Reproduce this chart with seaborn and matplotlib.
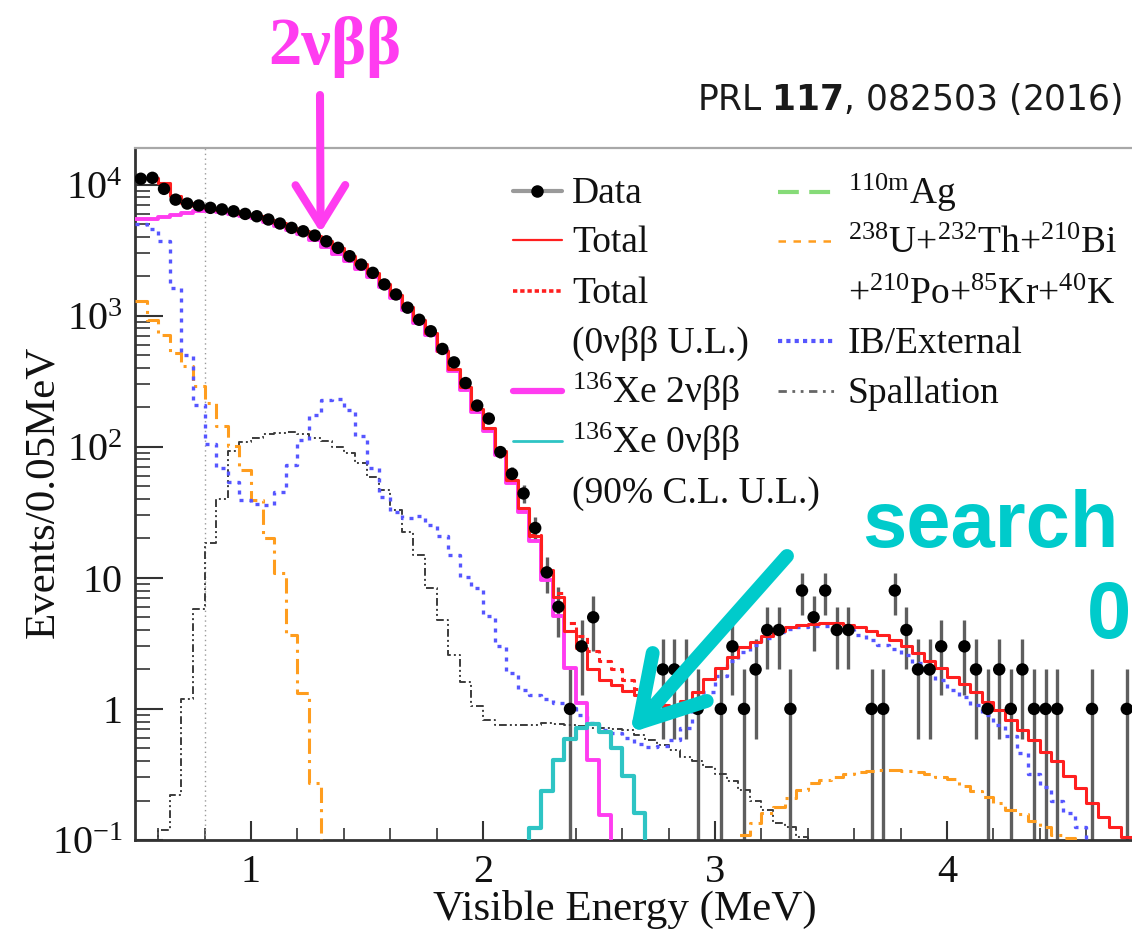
import numpy as np
import pandas as pd
import matplotlib
matplotlib.use("Agg")
import matplotlib.pyplot as plt
from matplotlib.lines import Line2D
from matplotlib.ticker import MultipleLocator, NullFormatter
import seaborn as sns

# ------------------------------------------------------------------ data
BIN_WIDTH = 0.05            # MeV per bin
E_LOW, E_HIGH = 0.5, 5.0    # visible-energy window (MeV)

# observed events per bin, bins start at 0.5 MeV
data_counts = [
    11070, 11250, 9270, 7670, 7160, 6920, 6640, 6460, 6250, 5970,
    5730, 5410, 5040, 4670, 4400, 4080, 3690, 3290, 2840, 2450,
    2120, 1730, 1450, 1150, 930, 760, 557, 440, 306, 206,
    164, 91, 62, 44, 24, 11, 6, 1, 3, 5,
    0, 0, 0, 0, 0, 2, 2, 2, 1, 0,
    1, 3, 1, 2, 4, 4, 1, 8, 5, 8,
    4, 4, 0, 1, 1, 8, 4, 2, 2, 3,
    0, 3, 2, 1, 2, 1, 2, 1, 1, 1,
    0, 0, 1, 0, 0, 1,
]

# best-fit total spectrum, same binning
total_fit = [
    11200, 11200, 10300, 8150, 7250, 6900, 6650, 6450, 6250, 5980,
    5730, 5400, 5050, 4700, 4400, 4080, 3700, 3300, 2870, 2470,
    2100, 1740, 1430, 1160, 930, 740, 540, 395, 285, 195,
    138, 92, 56, 34, 21, 11.2, 7.2, 3.9, 2.9, 2.0,
    1.66, 1.52, 1.36, 1.28, 1.17, 1.07, 1.04, 1.14, 1.35, 1.70,
    2.05, 2.50, 2.95, 3.25, 3.60, 3.95, 4.20, 4.35, 4.45, 4.50,
    4.50, 4.35, 4.20, 3.95, 3.66, 3.36, 3.04, 2.66, 2.33, 2.04,
    1.76, 1.55, 1.35, 1.13, 0.98, 0.82, 0.69, 0.58, 0.47, 0.40,
    0.31, 0.25, 0.19, 0.15, 0.126, 0.106,
]

# total including the 0vbb upper limit (differs only around Q-value)
total_ul_start = 2.20
total_ul = [21.1, 11.4, 7.6, 4.5, 3.6, 2.75, 2.3, 2.0, 1.65, 1.42, 1.17]

# 136Xe 2vbb
xe2v_start = 0.50
xe2v = [
    5470, 5500, 5660, 5900, 6080, 6250, 6290, 6200, 6000, 5770,
    5540, 5220, 4870, 4490, 4160, 3790, 3360, 2970, 2590, 2280,
    1970, 1650, 1360, 1110, 886, 706, 534, 380, 272, 184,
    131, 87, 53, 31.5, 19.2, 9.6, 5.1, 2.04, 1.10, 0.41,
    0.155, 0.05, 0,
]

# 136Xe 0vbb (90% C.L. upper limit)
xe0v_start = 2.15
xe0v = [0, 0.123, 0.235, 0.41, 0.59, 0.72, 0.77, 0.67, 0.50, 0.31, 0.16, 0]

# inner balloon / external
ib_start = 0.50
ib_external = [
    5000, 4600, 3690, 1620, 504, 209, 104, 69, 54, 39,
    36.7, 36, 44.8, 73, 113, 175, 228, 231, 191, 120,
    69, 41.7, 32, 28.6, 29.4, 25.4, 20.7, 15, 10.2, 8.3,
    5.1, 3.0, 1.87, 1.40, 1.28, 1.20, 1.10, 1.02, 0.90, 0.78,
    0.69, 0.65, 0.60, 0.54, 0.51, 0.52, 0.58, 0.71, 1.0, 1.35,
    1.78, 2.3, 2.7, 3.05, 3.5, 3.87, 4.07, 4.2, 4.28, 4.28,
    4.13, 3.97, 3.66, 3.36, 3.08, 2.85, 2.58, 2.23, 1.93, 1.66,
    1.40, 1.24, 1.07, 0.90, 0.75, 0.62, 0.46, 0.32, 0.255, 0.20,
    0.16, 0.126, 0.09, 0.07, 0.05, 0.04,
]

# 238U + 232Th + 210Bi + 210Po + 85Kr + 40K (low- and high-energy parts)
uthk_low_start = 0.50
uthk_low = [1285, 930, 716, 519, 410, 290, 217, 145, 101, 67,
            39, 20, 10.9, 3.67, 1.32, 0.27, 0.05]
uthk_high_start = 3.05
uthk_high = [0.08, 0.11, 0.134, 0.16, 0.18, 0.21, 0.24, 0.27, 0.287, 0.304,
             0.319, 0.329, 0.338, 0.342, 0.342, 0.337, 0.33, 0.32, 0.30, 0.29,
             0.26, 0.237, 0.213, 0.19, 0.17, 0.158, 0.14, 0.126, 0.11, 0.104,
             0.09]

# spallation products
spall_start = 0.55
spallation = [
    0.05, 0.12, 0.22, 1.2, 5.8, 18.4, 40, 92, 108, 116,
    124, 127, 129, 126, 116, 110, 100, 89.5, 75, 58.7,
    46.5, 33, 22.5, 14.8, 8.3, 4.8, 2.6, 1.6, 1.05, 0.82,
    0.76, 0.75, 0.75, 0.76, 0.78, 0.77, 0.76, 0.74, 0.72, 0.71,
    0.70, 0.69, 0.63, 0.58, 0.53, 0.49, 0.43, 0.40, 0.36, 0.32,
    0.28, 0.24, 0.20, 0.17, 0.134, 0.126, 0.106, 0.09,
]

y_ticks = [1e-1, 1, 10, 1e2, 1e3, 1e4]
y_tick_labels = [r"$10^{-1}$", "1", "10", r"$10^{2}$", r"$10^{3}$", r"$10^{4}$"]
x_ticks = [1, 2, 3, 4]
x_tick_labels = ["1", "2", "3", "4"]

# ------------------------------------------------------------------ style
RED = "#ff1f1f"
MAGENTA = "#ff3cf0"
CYAN = "#00cbcb"
TEAL = "#2ec4c4"
BLUE = "#5656ff"
ORANGE = "#ff9d1e"
GREEN = "#86db78"

sns.set_theme(style="ticks")
plt.rcParams["font.family"] = ["Liberation Serif", "DejaVu Serif"]
plt.rcParams["mathtext.fontset"] = "custom"
plt.rcParams["mathtext.rm"] = "Liberation Serif"
plt.rcParams["mathtext.it"] = "Liberation Serif:italic"
plt.rcParams["mathtext.bf"] = "Liberation Serif:bold"
plt.rcParams["mathtext.default"] = "regular"

FIG_W, FIG_H = 1132, 939
PX_PER_MEV = 232
AX_LEFT, AX_TOP, AX_BOTTOM = 135, 148, 840

fig = plt.figure(figsize=(FIG_W / 100, FIG_H / 100), dpi=100)
fig.patch.set_facecolor("white")
ax_w = (E_HIGH - E_LOW) * PX_PER_MEV
ax = fig.add_axes([AX_LEFT / FIG_W, 1 - AX_BOTTOM / FIG_H,
                   ax_w / FIG_W, (AX_BOTTOM - AX_TOP) / FIG_H])


def fx(x):
    return x / FIG_W


def fy(y):
    return 1 - y / FIG_H


def step_hist(start, values, **style):
    n = len(values)
    edges = [start + BIN_WIDTH * k for k in range(n + 1)]
    frame = pd.DataFrame({
        "energy": [start + BIN_WIDTH * (k + 0.5) for k in range(n)],
        "events": [float(v) for v in values],
    })
    sns.histplot(data=frame, x="energy", weights="events", bins=edges,
                 element="step", fill=False, ax=ax, **style)


# analysis threshold marker
ax.axvline(0.8, color="#9a9a9a", lw=1.0, ls=(0, (1, 2.5)), zorder=1)

# background / signal components
step_hist(spall_start, spallation, color="#3c3c3c", linewidth=1.4,
          linestyle=(0, (4, 1.6, 1, 1.6, 1, 1.6)), zorder=3)
step_hist(uthk_low_start, uthk_low, color=ORANGE, linewidth=2.2,
          linestyle=(0, (5, 2, 1, 2)), zorder=3)
step_hist(uthk_high_start, uthk_high, color=ORANGE, linewidth=2.2,
          linestyle=(0, (5, 2, 1, 2)), zorder=3)
step_hist(ib_start, ib_external, color=BLUE, linewidth=2.4,
          linestyle=(0, (1.2, 1.8)), zorder=3)
step_hist(xe2v_start, xe2v, color=MAGENTA, linewidth=2.8, zorder=3)
step_hist(xe0v_start, xe0v, color=TEAL, linewidth=3.0, zorder=3)
step_hist(total_ul_start, total_ul, color=RED, linewidth=2.2,
          linestyle=(0, (2, 1.5)), zorder=4)
step_hist(E_LOW, total_fit, color=RED, linewidth=2.2, zorder=4)

# data points with Poisson errors
centers = E_LOW + BIN_WIDTH * (np.arange(len(data_counts)) + 0.5)
obs = pd.DataFrame({"energy": centers, "events": data_counts})
obs = obs[obs["events"] > 0]
ax.errorbar(obs["energy"], obs["events"], yerr=np.sqrt(obs["events"]),
            fmt="none", ecolor="#5e5e5e", elinewidth=2.4, zorder=2)
sns.scatterplot(data=obs, x="energy", y="events", color="black", s=80,
                edgecolor="none", zorder=6, ax=ax)

# axes
ax.set_yscale("log")
ax.set_xlim(E_LOW, E_HIGH)
ax.set_ylim(0.1, 1.9e4)
ax.set_yticks(y_ticks, labels=y_tick_labels)
ax.yaxis.set_minor_formatter(NullFormatter())
ax.set_xticks(x_ticks, labels=x_tick_labels)
ax.xaxis.set_minor_locator(MultipleLocator(0.2))
ax.tick_params(axis="y", which="major", direction="in", length=20, width=1.5,
               color="#333333", labelsize=29, pad=9, labelcolor="#111111")
ax.tick_params(axis="y", which="minor", direction="in", length=11, width=1.2,
               color="#333333")
ax.tick_params(axis="x", which="major", direction="in", length=14, width=1.5,
               color="#333333", labelsize=29, pad=10, labelcolor="#111111")
ax.tick_params(axis="x", which="minor", direction="in", length=8.5, width=1.2,
               color="#333333")
ax.spines["right"].set_visible(False)
ax.spines["top"].set_color("#a8a8a8")
ax.spines["top"].set_linewidth(1.6)
for side in ("left", "bottom"):
    ax.spines[side].set_color("#333333")
    ax.spines[side].set_linewidth(2.0)

ax.set_xlabel("Visible Energy (MeV)", fontsize=31, color="#111111")
ax.set_ylabel("Events/0.05MeV", fontsize=31, color="#111111")
ax.xaxis.set_label_coords((625 - AX_LEFT) / ax_w,
                          (AX_BOTTOM - 890) / (AX_BOTTOM - AX_TOP))
ax.yaxis.set_label_coords((62 - AX_LEFT) / ax_w,
                          (AX_BOTTOM - 492) / (AX_BOTTOM - AX_TOP))

# ------------------------------------------------------------------ legend
LEG_SIZE = 27


def legend_key(x0, x1, y, **kw):
    fig.add_artist(Line2D([fx(x0), fx(x1)], [fy(y), fy(y)],
                          transform=fig.transFigure, **kw))


def legend_text(x, y, s):
    fig.text(fx(x), fy(y + 12), s, fontsize=LEG_SIZE, color="#111111",
             ha="left", va="baseline")


col1 = [
    ("Data", dict(color="#9a9a9a", lw=3)),
    ("Total", dict(color=RED, lw=1.6)),
    ("Total", dict(color=RED, lw=2.6, ls=(0, (1.2, 0.8)))),
    ("(0νββ U.L.)", None),
    (r"$^{136}$Xe 2νββ", dict(color=MAGENTA, lw=4.5)),
    (r"$^{136}$Xe 0νββ", dict(color=TEAL, lw=2.0)),
    ("(90% C.L. U.L.)", None),
]
col1_rows = [191, 240, 291, 341, 391, 441, 491]
for (label, kw), y in zip(col1, col1_rows):
    if kw is not None:
        legend_key(513, 562, y, **kw)
    legend_text(572, y, label)
fig.add_artist(Line2D([fx(537)], [fy(191)], transform=fig.transFigure,
                      marker="o", ms=8, color="black", ls="none"))

col2 = [
    (r"$^{110m}$Ag", dict(color=GREEN, lw=3, ls=(0, (5, 2.5)))),
    (r"$^{238}$U+$^{232}$Th+$^{210}$Bi", dict(color=ORANGE, lw=1.8, ls=(0, (3, 3)))),
    (r"+$^{210}$Po+$^{85}$Kr+$^{40}$K", None),
    ("IB/External", dict(color=BLUE, lw=3, ls=(0, (1, 1)))),
    ("Spallation", dict(color="#666666", lw=2, ls=(0, (3, 2, 1, 2, 1, 2)))),
]
col2_rows = [192, 241, 292, 341, 391]
for (label, kw), y in zip(col2, col2_rows):
    if kw is not None:
        legend_key(778, 836, y, **kw)
    legend_text(848, y, label)

# ------------------------------------------------------------------ annotations
renderer = fig.canvas.get_renderer()


def fit_width(t, target_px):
    w = t.get_window_extent(renderer).width
    t.set_fontsize(t.get_fontsize() * target_px / w)


ref = fig.text(fx(697), fy(110), r"PRL $\mathbf{117}$, 082503 (2016)",
               fontsize=22, family="DejaVu Sans", math_fontfamily="dejavusans",
               color="#1a1a1a", ha="left", va="baseline")
fit_width(ref, 425)

fig.text(fx(335), fy(64), "2νββ", fontsize=48, fontweight="bold",
         color=MAGENTA, ha="center", va="baseline")
ax.annotate("", xy=(1.30, 4300), xycoords="data",
            xytext=(320, FIG_H - 95), textcoords="figure pixels",
            arrowprops=dict(arrowstyle="->,head_length=28.7,head_width=17.9",
                            color=MAGENTA, lw=5.8, mutation_scale=1,
                            shrinkA=0, shrinkB=0), zorder=8)

search = fig.text(fx(862), fy(547), "search", fontsize=56, fontweight="bold",
                  family="Liberation Sans", color=CYAN, ha="left",
                  va="baseline")
fit_width(search, 256)
fig.text(fx(1131), fy(638), "0", fontsize=search.get_fontsize(),
         fontweight="bold", family="Liberation Sans", color=CYAN,
         ha="right", va="baseline")
ax.annotate("", xy=(2.634, 0.656), xycoords="data",
            xytext=(787, FIG_H - 556), textcoords="figure pixels",
            arrowprops=dict(arrowstyle="->,head_length=44,head_width=26",
                            color=CYAN, lw=10, mutation_scale=1,
                            shrinkA=0, shrinkB=0), zorder=8)

fig.savefig("out.png", dpi=100)
